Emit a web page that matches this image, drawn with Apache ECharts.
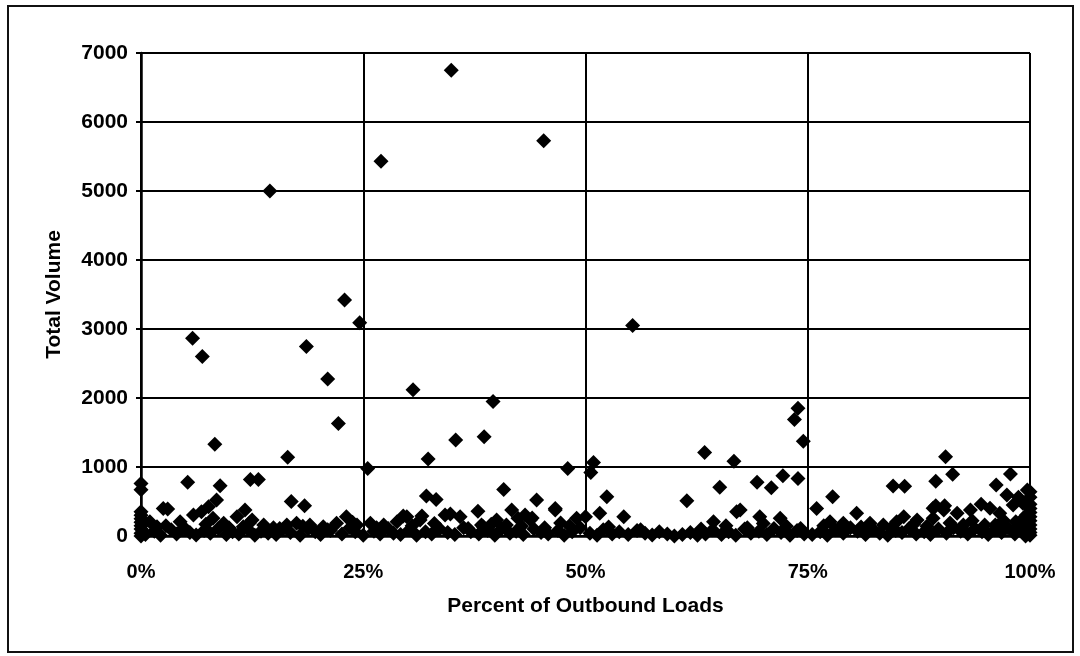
<!DOCTYPE html>
<html>
<head>
<meta charset="utf-8">
<script src="https://cdn.jsdelivr.net/npm/echarts@6/dist/echarts.min.js"></script>
<style>
  html, body { margin: 0; padding: 0; background: #ffffff; }
  #chart { width: 1080px; height: 656px; }
</style>
</head>
<body>
<div id="chart"></div>
<script>
// Axis ticks
const xTickValues = [0, 25, 50, 75, 100];
const yTickValues = [0, 1000, 2000, 3000, 4000, 5000, 6000, 7000];

// Large stores (volume above ~1000)
const highPct = [14.5, 34.9, 27.0, 45.3, 22.9, 24.6, 5.8, 6.9, 18.6, 55.3, 21.0, 8.3, 22.2, 16.5, 30.6, 39.6, 35.4, 38.6, 32.3, 73.9, 73.5, 74.5, 63.4, 66.7, 50.9, 90.5];
const highVol = [5000, 6750, 5430, 5730, 3420, 3090, 2865, 2600, 2745, 3050, 2275, 1330, 1630, 1140, 2120, 1950, 1390, 1440, 1115, 1850, 1690, 1375, 1210, 1085, 1065, 1150];

// Medium stores (roughly 400 to 1000)
const midPct = [0.0, 0.0, 25.5, 5.25, 8.9, 12.3, 13.2, 8.5, 7.6, 16.9, 18.4, 48.0, 50.6, 40.8, 32.1, 33.2, 44.5, 46.6, 72.2, 73.9, 69.3, 70.9, 65.1, 61.4, 52.4, 91.3, 97.8, 89.4, 84.6, 85.9, 96.2, 77.8, 99.7, 97.4, 89.4, 90.4, 94.5, 98.7, 99.2, 2.5, 98.1, 76.0];
const midVol = [760, 670, 980, 780, 730, 820, 820, 520, 425, 500, 440, 980, 920, 675, 580, 530, 520, 400, 875, 835, 780, 700, 705, 510, 570, 895, 900, 795, 725, 720, 740, 570, 665, 595, 440, 440, 460, 560, 475, 400, 450, 400];

// Smaller stores (roughly 100 to 400)
const lowPct = [1.0, 1.8, 3.0, 4.4, 5.9, 6.8, 8.1, 9.3, 10.8, 11.7, 11.5, 12.5, 13.8, 14.9, 16.4, 17.5, 19.0, 20.5, 22.0, 23.1, 24.3, 25.8, 27.3, 28.8, 29.9, 31.4, 29.5, 31.6, 34.2, 34.8, 35.9, 37.9, 38.3, 38.5, 41.7, 42.4, 43.2, 44.0, 43.8, 46.6, 49.0, 50.0, 51.6, 54.3, 40.0, 41.1, 64.4, 67.0, 67.4, 69.6, 71.9, 77.5, 80.5, 79.0, 82.0, 83.5, 85.0, 85.8, 87.3, 89.1, 90.3, 89.1, 91.8, 93.3, 95.5, 96.6, 98.4, 96.1, 92.5, 99.6, 0.0, 0.0, 0.0, 0.0, 0.0, 0.0, 0.3, 0.3, 100, 100, 100, 100, 100, 100, 100, 100, 100, 100];
const lowVol = [207, 135, 390, 207, 304, 352, 256, 184, 280, 377, 135, 232, 160, 120, 160, 184, 160, 135, 184, 280, 160, 184, 160, 207, 280, 232, 290, 290, 304, 320, 280, 360, 160, 135, 377, 256, 304, 260, 232, 377, 256, 280, 329, 280, 232, 160, 207, 352, 377, 280, 256, 207, 329, 184, 184, 160, 207, 280, 232, 401, 377, 256, 329, 377, 401, 329, 207, 160, 160, 304, 100, 150, 200, 250, 300, 350, 60, 180, 100, 160, 220, 280, 340, 400, 460, 560, 640, 50];

// Second row of small stores (roughly 80 to 260)
const rowPct = [2.8, 5.0, 7.3, 9.9, 12.2, 15.6, 18.2, 21.0, 23.8, 26.5, 30.5, 33.0, 36.8, 39.4, 42.8, 45.4, 47.2, 48.2, 52.6, 56.2, 63.0, 65.8, 68.2, 70.0, 72.6, 74.2, 76.8, 78.6, 81.0, 84.4, 86.9, 88.4, 91.0, 93.5, 94.9, 97.0, 98.8, 99.3];
const rowVol = [150, 100, 170, 120, 190, 110, 140, 90, 200, 120, 150, 180, 110, 170, 140, 120, 190, 150, 130, 90, 100, 150, 120, 180, 140, 110, 150, 100, 130, 120, 170, 140, 190, 220, 160, 230, 150, 260];

// Smallest stores along the base (under ~130)
const basePct = [0.0, 0.0, 0.5, 1.5, 2.2, 3.4, 4.0, 4.8, 5.5, 6.2, 7.1, 7.8, 8.7, 9.6, 10.3, 11.0, 12.0, 12.8, 13.5, 14.3, 15.2, 15.9, 16.8, 17.9, 18.8, 19.6, 20.2, 21.3, 22.6, 23.5, 24.1, 25.0, 26.2, 26.9, 27.8, 28.4, 29.2, 30.2, 31.0, 32.0, 32.7, 33.6, 34.5, 35.3, 36.3, 37.1, 38.0, 39.0, 39.8, 40.6, 41.5, 42.2, 43.0, 44.2, 45.0, 45.8, 46.9, 47.6, 48.5, 49.4, 50.5, 51.3, 52.0, 53.0, 53.8, 54.8, 55.8, 56.7, 57.5, 58.3, 59.2, 60.0, 60.9, 61.8, 62.6, 63.5, 64.3, 65.3, 66.1, 66.9, 67.9, 68.6, 69.5, 70.4, 71.2, 72.0, 73.0, 73.8, 74.6, 75.5, 76.4, 77.2, 78.1, 79.0, 79.8, 80.6, 81.5, 82.3, 83.1, 84.0, 84.9, 85.6, 86.4, 87.2, 88.1, 88.8, 89.7, 90.6, 91.4, 92.2, 93.0, 93.8, 94.6, 95.3, 96.0, 96.8, 97.5, 98.3, 99.0, 99.5, 100, 100];
const baseVol = [0, 40, 20, 70, 10, 90, 30, 120, 50, 15, 80, 40, 110, 20, 60, 30, 100, 10, 70, 40, 20, 90, 50, 10, 100, 60, 20, 80, 30, 120, 60, 10, 70, 30, 110, 40, 20, 90, 10, 60, 30, 100, 50, 20, 120, 60, 30, 80, 10, 110, 40, 70, 20, 100, 50, 30, 80, 10, 60, 120, 40, 10, 90, 30, 60, 20, 80, 40, 15, 60, 30, 0, 20, 50, 10, 30, 90, 20, 60, 10, 100, 40, 70, 20, 110, 50, 10, 80, 30, 20, 60, 10, 90, 40, 120, 70, 20, 100, 40, 10, 80, 50, 110, 30, 60, 20, 100, 40, 120, 70, 30, 110, 60, 20, 90, 50, 120, 30, 80, 0, 10];

function pairs(px, vy) {
  return px.map((p, i) => [p, vy[i]]);
}

const points = []
  .concat(pairs(basePct, baseVol))
  .concat(pairs(rowPct, rowVol))
  .concat(pairs(lowPct, lowVol))
  .concat(pairs(midPct, midVol))
  .concat(pairs(highPct, highVol));

const FONT = 'Liberation Sans';
const chart = echarts.init(document.getElementById('chart'), null, { renderer: 'canvas' });

chart.setOption({
  backgroundColor: '#ffffff',
  animation: false,
  graphic: [{
    type: 'rect',
    shape: { x: 8, y: 6, width: 1065, height: 646 },
    style: { fill: 'none', stroke: '#111', lineWidth: 2 },
    silent: true
  }],
  grid: {
    left: 141, right: 50, top: 53, bottom: 120,
    containLabel: false,
    outerBoundsMode: 'none'
  },
  xAxis: {
    type: 'value',
    min: xTickValues[0],
    max: xTickValues[xTickValues.length - 1],
    interval: xTickValues[1] - xTickValues[0],
    name: 'Percent of Outbound Loads',
    nameLocation: 'middle',
    nameGap: 60,
    nameMoveOverlap: false,
    nameTextStyle: { fontFamily: FONT, fontWeight: 'bold', fontSize: 21, color: '#000' },
    axisLine: { show: true, onZero: false, lineStyle: { color: '#000', width: 2.5 } },
    axisTick: { show: false },
    axisLabel: {
      margin: 26,
      formatter: v => v + '%',
      fontFamily: FONT, fontWeight: 'bold', fontSize: 20, color: '#000'
    },
    splitLine: { show: true, lineStyle: { color: '#000', width: 2 } }
  },
  yAxis: {
    type: 'value',
    min: yTickValues[0],
    max: yTickValues[yTickValues.length - 1],
    interval: yTickValues[1] - yTickValues[0],
    name: 'Total Volume',
    nameLocation: 'middle',
    nameGap: 76,
    nameRotate: 90,
    nameMoveOverlap: false,
    nameTextStyle: { fontFamily: FONT, fontWeight: 'bold', fontSize: 21, color: '#000' },
    axisLine: { show: true, lineStyle: { color: '#000', width: 2.5 } },
    axisTick: { show: true, length: 5, inside: false, lineStyle: { color: '#000', width: 2 } },
    axisLabel: {
      margin: 13,
      formatter: v => String(v),
      fontFamily: FONT, fontWeight: 'bold', fontSize: 21, color: '#000'
    },
    splitLine: { show: true, lineStyle: { color: '#000', width: 2 } }
  },
  series: [{
    type: 'scatter',
    symbol: 'diamond',
    symbolSize: 15,
    clip: false,
    itemStyle: { color: '#000', opacity: 1 },
    data: points
  }]
});
</script>
</body>
</html>
